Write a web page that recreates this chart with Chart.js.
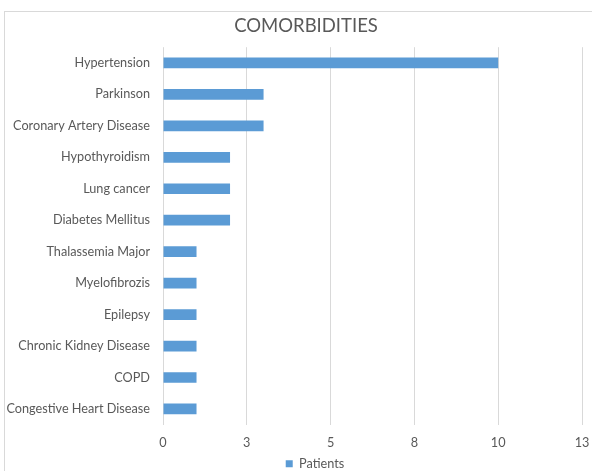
<!DOCTYPE html>
<html>
<head>
<meta charset="utf-8">
<script src="https://cdn.jsdelivr.net/npm/chart.js@4/dist/chart.umd.min.js"></script>
<style>
  html, body { margin: 0; padding: 0; background: #fff; }
  #wrap { width: 592px; height: 471px; }
</style>
</head>
<body>
<div id="wrap"><canvas id="comorbChart" width="592" height="471"></canvas></div>
<script>
const categories = [
    'Hypertension',
    'Parkinson',
    'Coronary Artery Disease',
    'Hypothyroidism',
    'Lung cancer',
    'Diabetes Mellitus',
    'Thalassemia Major',
    'Myelofibrozis',
    'Epilepsy',
    'Chronic Kidney Disease',
    'COPD',
    'Congestive Heart Disease'
];
const patients = [10, 3, 3, 2, 2, 2, 1, 1, 1, 1, 1, 1];
const axisMax = 12.5;
const tickStep = 2.5;

const textColor = '#595959';
const gridColor = '#d9d9d9';
const barColor = '#5b9bd5';
const fontFamily = 'Lato, "Open Sans", sans-serif';

// light frame round the whole chart, like the spreadsheet chart box
const framePlugin = {
    id: 'frame',
    beforeDraw(chart) {
        const c = chart.ctx;
        c.save();
        c.strokeStyle = gridColor;
        c.lineWidth = 1;
        c.strokeRect(4.5, 11.5, chart.width + 10, chart.height + 10);
        c.restore();
    }
};

// the title and legend sit a little right of centre in the original
const nudgePlugin = {
    id: 'nudge',
    afterLayout(chart) {
        if (chart.titleBlock) {
            chart.titleBlock.left += 13;
            chart.titleBlock.right += 13;
        }
        if (chart.legend) {
            chart.legend.left += 22;
            chart.legend.right += 22;
        }
    }
};

const ctx = document.getElementById('comorbChart');

new Chart(ctx, {
    type: 'bar',
    data: {
        labels: categories,
        datasets: [
            {
                label: 'Patients',
                data: patients,
                backgroundColor: barColor,
                borderWidth: 0,
                barPercentage: 0.34,
                categoryPercentage: 1
            }
        ]
    },
    plugins: [framePlugin, nudgePlugin],
    options: {
        indexAxis: 'y',
        responsive: false,
        animation: false,
        layout: {
            padding: { top: 12, right: 10, bottom: -9, left: 4 }
        },
        plugins: {
            title: {
                display: true,
                text: 'COMORBIDITIES',
                color: textColor,
                font: { family: fontFamily, size: 18.5, weight: 'normal' },
                padding: { top: 3, bottom: 10 }
            },
            legend: {
                display: true,
                position: 'bottom',
                labels: {
                    color: textColor,
                    font: { family: fontFamily, size: 12.7 },
                    boxWidth: 7,
                    boxHeight: 7,
                    padding: 1
                }
            },
            tooltip: { enabled: false }
        },
        scales: {
            x: {
                min: 0,
                max: axisMax,
                ticks: {
                    stepSize: tickStep,
                    color: textColor,
                    font: { family: fontFamily, size: 12.7 },
                    padding: 11,
                    maxRotation: 0,
                    callback: function(value) {
                        return Math.round(value);
                    }
                },
                grid: {
                    color: gridColor,
                    drawTicks: false
                },
                border: { display: false },
                afterFit: function(scale) {
                    scale.height = 31.6;
                    // tick padding would otherwise push the right edge in
                    scale.paddingLeft = 0;
                    scale.paddingRight = 8;
                }
            },
            y: {
                ticks: {
                    color: textColor,
                    font: { family: fontFamily, size: 12.7 },
                    padding: 13
                },
                grid: { display: false, drawTicks: false },
                border: { display: false },
                afterFit: function(scale) {
                    scale.width = 159;
                }
            }
        }
    }
});
</script>
</body>
</html>
